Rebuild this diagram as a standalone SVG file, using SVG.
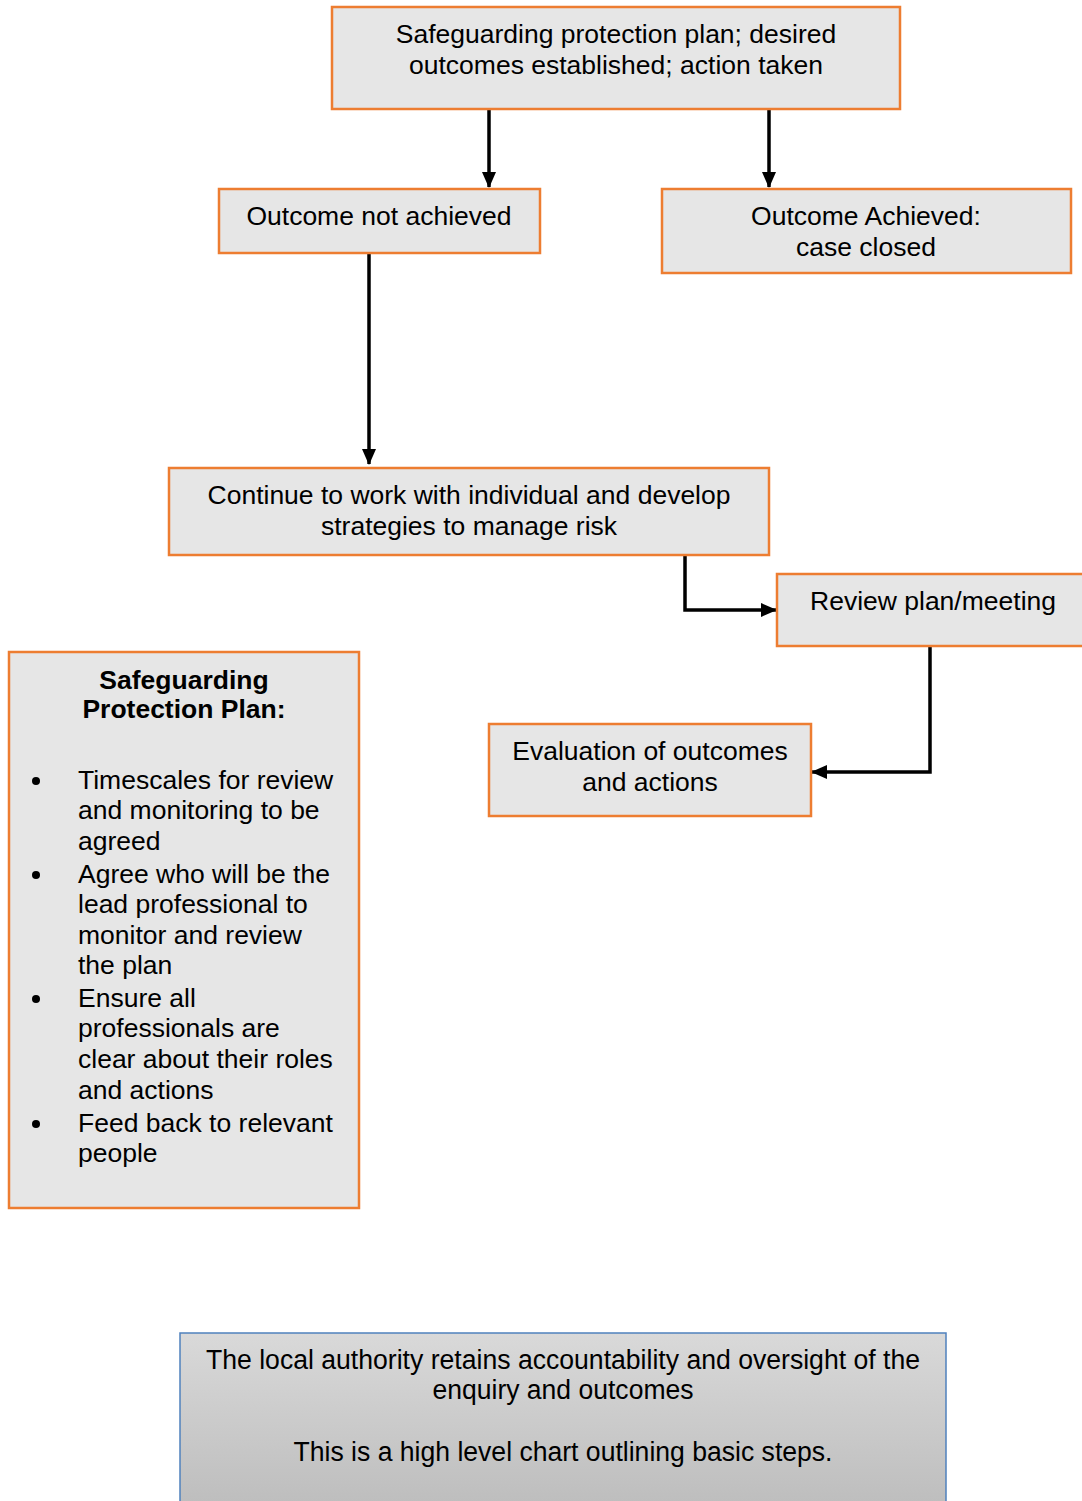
<svg xmlns="http://www.w3.org/2000/svg" width="1082" height="1501" viewBox="0 0 1082 1501">
<style>
.box{fill:#e6e6e6;stroke:#ed7d31;stroke-width:2.5}
.t{font-family:"Liberation Sans",Arial,sans-serif;font-size:26.5px;fill:#000;text-anchor:middle}
.l{font-family:"Liberation Sans",Arial,sans-serif;font-size:26.5px;fill:#000}
.b{font-weight:bold}
.n{font-size:27px}
.c{fill:none;stroke:#000;stroke-width:3.5}
</style>
<defs>
<linearGradient id="g" x1="0" y1="0" x2="0" y2="1">
<stop offset="0" stop-color="#d9d9d9"/>
<stop offset="1" stop-color="#bdbdbd"/>
</linearGradient>
<marker id="a" markerWidth="16" markerHeight="16" refX="15" refY="8" orient="auto" markerUnits="userSpaceOnUse">
<path d="M0,1 L16,8 L0,15 Z" fill="#000"/>
</marker>
</defs>
<g id="connectors">
<path class="c" d="M489,109 V187" marker-end="url(#a)"/>
<path class="c" d="M769,109 V187" marker-end="url(#a)"/>
<path class="c" d="M369,253 V464" marker-end="url(#a)"/>
<path class="c" d="M685,555 V610 H776" marker-end="url(#a)"/>
<path class="c" d="M930,646 V772 H812" marker-end="url(#a)"/>
</g>
<g id="top">
<rect class="box" x="332" y="7" width="568" height="102"/>
<text class="t" x="616" y="43">Safeguarding protection plan; desired</text>
<text class="t" x="616" y="74">outcomes established; action taken</text>
</g>
<g id="notachieved">
<rect class="box" x="219" y="189" width="321" height="64"/>
<text class="t" x="379" y="225">Outcome not achieved</text>
</g>
<g id="achieved">
<rect class="box" x="662" y="189" width="409" height="84"/>
<text class="t" x="866" y="225">Outcome Achieved:</text>
<text class="t" x="866" y="256">case closed</text>
</g>
<g id="continue">
<rect class="box" x="169" y="468" width="600" height="87"/>
<text class="t" x="469" y="504">Continue to work with individual and develop</text>
<text class="t" x="469" y="535">strategies to manage risk</text>
</g>
<g id="review">
<rect class="box" x="777" y="574" width="310" height="72"/>
<text class="t" x="933" y="610">Review plan/meeting</text>
</g>
<g id="evaluation">
<rect class="box" x="489" y="724" width="322" height="92"/>
<text class="t" x="650" y="760">Evaluation of outcomes</text>
<text class="t" x="650" y="791">and actions</text>
</g>
<g id="plan">
<rect class="box" x="9" y="652" width="350" height="556"/>
<text class="t b" x="184" y="689">Safeguarding</text>
<text class="t b" x="184" y="718">Protection Plan:</text>
<g fill="#000">
<circle cx="36" cy="781" r="4"/>
<circle cx="36" cy="875" r="4"/>
<circle cx="36" cy="999" r="4"/>
<circle cx="36" cy="1124" r="4"/>
</g>
<text class="l" x="78" y="789">Timescales for review</text>
<text class="l" x="78" y="819">and monitoring to be</text>
<text class="l" x="78" y="850">agreed</text>
<text class="l" x="78" y="883">Agree who will be the</text>
<text class="l" x="78" y="913">lead professional to</text>
<text class="l" x="78" y="944">monitor and review</text>
<text class="l" x="78" y="974">the plan</text>
<text class="l" x="78" y="1007">Ensure all</text>
<text class="l" x="78" y="1037">professionals are</text>
<text class="l" x="78" y="1068">clear about their roles</text>
<text class="l" x="78" y="1099">and actions</text>
<text class="l" x="78" y="1132">Feed back to relevant</text>
<text class="l" x="78" y="1162">people</text>
</g>
<g id="note">
<rect x="180" y="1333" width="766" height="175" fill="url(#g)" stroke="#4f81bd" stroke-width="1.5"/>
<text class="t n" x="563" y="1369" textLength="714" lengthAdjust="spacingAndGlyphs">The local authority retains accountability and oversight of the</text>
<text class="t n" x="563" y="1399" textLength="261" lengthAdjust="spacingAndGlyphs">enquiry and outcomes</text>
<text class="t n" x="563" y="1461" textLength="539" lengthAdjust="spacingAndGlyphs">This is a high level chart outlining basic steps.</text>
</g>
</svg>
